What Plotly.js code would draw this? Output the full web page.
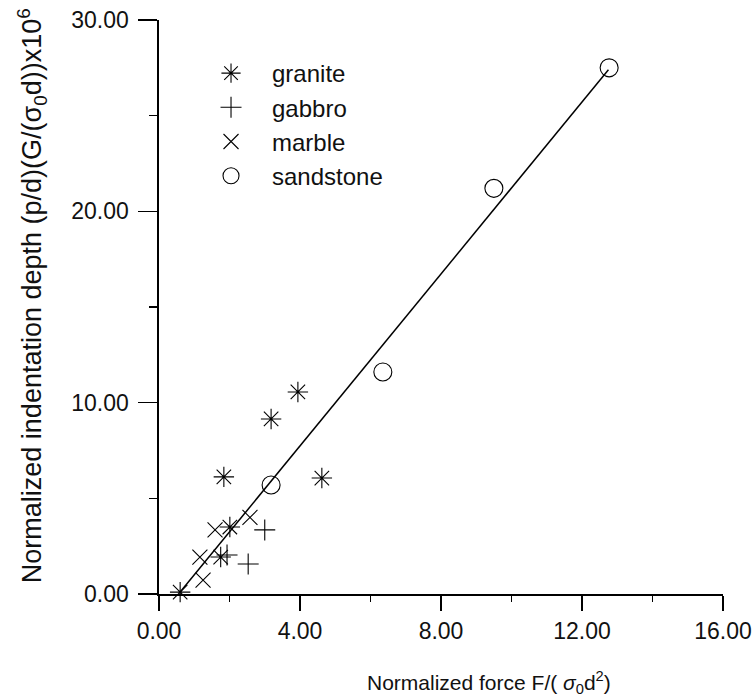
<!DOCTYPE html>
<html>
<head>
<meta charset="utf-8">
<script src="https://cdn.plot.ly/plotly-3.0.1.min.js"></script>
<style>
  html, body { margin: 0; padding: 0; background: #fff; }
  #chart { width: 753px; height: 698px; }
</style>
</head>
<body>
<div id="chart"></div>
<script>
// Normalized force F/(σ0 d²) vs normalized indentation depth, by rock type
const graniteX = [0.60, 1.84, 1.75, 2.01, 3.18, 3.94, 4.62];
const graniteY = [0.10, 6.12, 1.93, 3.50, 9.15, 10.56, 6.06];

const gabbroX = [1.93, 2.53, 3.00];
const gabbroY = [2.04, 1.57, 3.35];

const marbleX = [1.16, 1.25, 1.59, 2.58];
const marbleY = [1.93, 0.73, 3.35, 4.00];

const sandstoneX = [3.18, 6.35, 9.50, 12.77];
const sandstoneY = [5.70, 11.60, 21.20, 27.50];

// fitted straight line through all rock types
const fitX = [0.60, 12.75];
const fitY = [0.10, 27.40];

const xTickVals = [0, 4, 8, 12, 16];
const yTickVals = [0, 10, 20, 30];

const xTitle = 'Normalized force F/( <i>σ</i><sub>0</sub>d<sup>2</sup>)';
const yTitle = 'Normalized indentation depth (p/d)(G/(σ<sub>0</sub>d))x10<sup>6</sup>';

const FONT = 'Liberation Sans, Arial, sans-serif';
const INK = '#111';

function pts(name, x, y, symbol, size) {
  return {
    type: 'scatter', mode: 'markers', name: name, x: x, y: y,
    marker: { symbol: symbol, size: size, color: '#000',
              line: { color: '#000', width: 1.1 } },
    cliponaxis: false
  };
}

const traces = [
  pts('granite', graniteX, graniteY, 'asterisk-open', 17),
  pts('gabbro', gabbroX, gabbroY, 'cross-thin-open', 15),
  pts('marble', marbleX, marbleY, 'x-thin-open', 15),
  pts('sandstone', sandstoneX, sandstoneY, 'circle-open', 18),
  { type: 'scatter', mode: 'lines', x: fitX, y: fitY, showlegend: false,
    line: { color: '#000', width: 1.5 }, hoverinfo: 'skip' }
];

const axisCommon = {
  showgrid: false, zeroline: false, showline: true, linecolor: '#000', linewidth: 1.6,
  ticks: 'outside', tickwidth: 1.5, tickcolor: '#000', tickformat: '.2f',
  tickfont: { family: FONT, size: 23, color: INK },
  automargin: false
};

const layout = {
  width: 753, height: 698,
  margin: { l: 159, r: 30, t: 20, b: 104 },
  paper_bgcolor: '#fff', plot_bgcolor: '#fff',
  font: { family: FONT, size: 22, color: INK },
  showlegend: true,
  legend: {
    x: 0.055, y: 0.946, xanchor: 'left', yanchor: 'top',
    bgcolor: 'rgba(0,0,0,0)', font: { family: FONT, size: 24, color: INK },
    itemwidth: 72
  },
  xaxis: Object.assign({}, axisCommon, {
    range: [0, 16], tickvals: xTickVals,
    ticklen: 15, ticklabelstandoff: 1,
    minor: { dtick: 2, tick0: 0, ticks: 'outside', ticklen: 6, tickwidth: 1.2, tickcolor: '#000', showgrid: false }
  }),
  yaxis: Object.assign({}, axisCommon, {
    range: [0, 30], tickvals: yTickVals,
    ticklen: 19, ticklabelstandoff: 5,
    minor: { dtick: 5, tick0: 0, ticks: 'outside', ticklen: 8, tickwidth: 1.2, tickcolor: '#000', showgrid: false }
  }),
  annotations: [
    { text: xTitle, xref: 'paper', yref: 'paper', x: 0.585, y: -0.154,
      xanchor: 'center', yanchor: 'middle', showarrow: false,
      font: { family: FONT, size: 21, color: INK } },
    { text: yTitle, xref: 'paper', yref: 'paper', x: -0.225, y: 0.519,
      xanchor: 'center', yanchor: 'middle', showarrow: false, textangle: -90,
      font: { family: FONT, size: 27, color: INK } }
  ]
};

Plotly.newPlot('chart', traces, layout, { staticPlot: true, displayModeBar: false });
</script>
</body>
</html>
